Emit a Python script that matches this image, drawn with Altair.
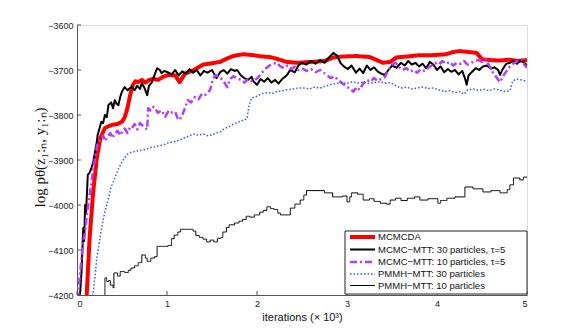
import altair as alt
import pandas as pd

SERIES = [
    "MCMCDA",
    "MCMC−MTT: 30 particles, τ=5",
    "MCMC−MTT: 10 particles, τ=5",
    "PMMH−MTT: 30 particles",
    "PMMH−MTT: 10 particles",
]
COLORS = ["#ff0000", "#000000", "#b43cff", "#2f55ff", "#000000"]
DASHES = [[1, 0], [1, 0], [7, 3, 2, 3], [1.5, 2], [1, 0]]
WIDTHS = [4, 2, 2.5, 1.5, 1]

# MCMCDA
red_x = [0.10, 0.14, 0.18, 0.22, 0.26, 0.31, 0.35, 0.39, 0.45, 0.50, 0.53, 0.56, 0.59, 0.62, 0.65, 0.68, 0.72,
         0.76, 0.80, 0.85, 0.90, 0.95, 1.01, 1.09, 1.14, 1.20, 1.30, 1.40, 1.50, 1.59, 1.65, 1.72, 1.78, 1.85,
         1.96, 2.05, 2.14, 2.20, 2.33, 2.45, 2.60, 2.75, 2.85, 2.96, 3.10, 3.25, 3.40, 3.48, 3.55, 3.67, 3.80,
         3.95, 4.10, 4.18, 4.25, 4.35, 4.44, 4.50, 4.60, 4.70, 4.80, 4.90, 5.00]
red_y = [-4230, -4073, -3971, -3896, -3851, -3829, -3825, -3822, -3820, -3815, -3805, -3785, -3756, -3733, -3725,
         -3727, -3722, -3728, -3722, -3720, -3722, -3716, -3711, -3712, -3727, -3708, -3700, -3688, -3685, -3682,
         -3676, -3670, -3667, -3665, -3667, -3670, -3671, -3674, -3682, -3684, -3682, -3680, -3672, -3670, -3669,
         -3671, -3684, -3682, -3672, -3670, -3667, -3667, -3665, -3660, -3658, -3660, -3662, -3676, -3678, -3679,
         -3677, -3680, -3678]

# MCMC-MTT 30 particles
blk_x = [0.03, 0.05, 0.07, 0.08, 0.09, 0.10, 0.12, 0.14, 0.16, 0.18, 0.20, 0.22, 0.23, 0.25, 0.27, 0.29, 0.31,
         0.33, 0.35, 0.38, 0.40, 0.42, 0.44, 0.46, 0.48, 0.50, 0.53, 0.56, 0.59, 0.61, 0.64, 0.67, 0.70, 0.72,
         0.75, 0.78, 0.80, 0.83, 0.86, 0.89, 0.92, 0.94, 0.97, 1.01, 1.05, 1.09, 1.13, 1.17, 1.21, 1.25, 1.29,
         1.33, 1.37, 1.41, 1.45, 1.50, 1.55, 1.59, 1.63, 1.67, 1.71, 1.75, 1.78, 1.82, 1.86, 1.90, 1.94, 1.96,
         2.00, 2.04, 2.08, 2.12, 2.16, 2.20, 2.24, 2.28, 2.33, 2.37, 2.42, 2.46, 2.50, 2.55, 2.60, 2.65, 2.70,
         2.75, 2.80, 2.85, 2.89, 2.93, 2.97, 3.01, 3.05, 3.10, 3.14, 3.18, 3.22, 3.26, 3.30, 3.34, 3.38, 3.42,
         3.46, 3.50, 3.55, 3.60, 3.64, 3.68, 3.72, 3.76, 3.80, 3.84, 3.88, 3.92, 3.96, 4.00, 4.04, 4.08, 4.12,
         4.16, 4.20, 4.24, 4.28, 4.31, 4.33, 4.35, 4.39, 4.43, 4.47, 4.51, 4.55, 4.60, 4.64, 4.68, 4.70, 4.73,
         4.77, 4.81, 4.85, 4.89, 4.93, 4.97, 5.00]
blk_y = [-4210, -4150, -4051, -4080, -4000, -4020, -3933, -3928, -3918, -3905, -3882, -3860, -3844, -3830, -3815,
         -3818, -3800, -3805, -3778, -3772, -3785, -3767, -3775, -3778, -3760, -3748, -3738, -3745, -3740, -3737,
         -3745, -3735, -3742, -3729, -3740, -3756, -3735, -3728, -3712, -3696, -3700, -3707, -3702, -3705, -3710,
         -3700, -3712, -3703, -3708, -3698, -3706, -3700, -3712, -3702, -3706, -3700, -3718, -3705, -3700, -3708,
         -3698, -3702, -3700, -3712, -3718, -3722, -3715, -3725, -3733, -3720, -3726, -3718, -3728, -3722, -3730,
         -3720, -3712, -3700, -3705, -3690, -3684, -3688, -3680, -3686, -3678, -3684, -3672, -3662, -3668, -3685,
         -3693, -3698, -3690, -3706, -3697, -3707, -3690, -3700, -3694, -3703, -3708, -3711, -3700, -3690, -3695,
         -3684, -3690, -3680, -3688, -3684, -3692, -3686, -3696, -3682, -3688, -3700, -3692, -3705, -3698, -3704,
         -3700, -3710, -3702, -3718, -3733, -3712, -3704, -3696, -3700, -3692, -3690, -3697, -3694, -3700, -3711,
         -3698, -3686, -3684, -3680, -3686, -3678, -3684, -3690]

# MCMC-MTT 10 particles
pur_x = [0.01, 0.03, 0.05, 0.07, 0.09, 0.11, 0.14, 0.17, 0.20, 0.23, 0.26, 0.29, 0.31, 0.34, 0.37, 0.39, 0.42,
         0.45, 0.48, 0.50, 0.53, 0.56, 0.59, 0.61, 0.64, 0.67, 0.70, 0.72, 0.75, 0.78, 0.79, 0.82, 0.85, 0.87,
         0.90, 0.94, 0.98, 1.02, 1.06, 1.09, 1.12, 1.14, 1.17, 1.20, 1.23, 1.27, 1.31, 1.35, 1.39, 1.43, 1.48,
         1.51, 1.54, 1.58, 1.62, 1.65, 1.67, 1.70, 1.74, 1.78, 1.82, 1.86, 1.90, 1.94, 1.98, 2.02, 2.06, 2.10,
         2.14, 2.18, 2.22, 2.26, 2.30, 2.34, 2.38, 2.42, 2.46, 2.50, 2.55, 2.60, 2.65, 2.70, 2.74, 2.78, 2.82,
         2.86, 2.90, 2.95, 3.00, 3.03, 3.07, 3.11, 3.14, 3.18, 3.22, 3.26, 3.30, 3.34, 3.38, 3.42, 3.46, 3.50,
         3.54, 3.58, 3.62, 3.66, 3.70, 3.74, 3.78, 3.82, 3.86, 3.90, 3.94, 3.98, 4.02, 4.06, 4.10, 4.14, 4.18,
         4.22, 4.26, 4.30, 4.34, 4.38, 4.42, 4.46, 4.50, 4.54, 4.58, 4.62, 4.66, 4.70, 4.74, 4.78, 4.82, 4.86,
         4.90, 4.94, 4.97, 5.00]
pur_y = [-4210, -4160, -4118, -4080, -4060, -4020, -3978, -3935, -3896, -3860, -3855, -3845, -3858, -3848, -3840,
         -3851, -3842, -3835, -3845, -3838, -3830, -3840, -3827, -3829, -3820, -3832, -3818, -3822, -3828, -3832,
         -3785, -3790, -3782, -3786, -3795, -3790, -3804, -3790, -3795, -3793, -3808, -3811, -3800, -3785, -3767,
         -3772, -3760, -3765, -3752, -3755, -3744, -3720, -3711, -3716, -3722, -3732, -3738, -3720, -3714, -3718,
         -3722, -3728, -3720, -3725, -3722, -3715, -3705, -3696, -3690, -3686, -3684, -3692, -3696, -3690, -3698,
         -3693, -3700, -3696, -3702, -3698, -3705, -3700, -3706, -3712, -3718, -3714, -3722, -3730, -3737, -3742,
         -3748, -3738, -3744, -3730, -3722, -3726, -3718, -3724, -3720, -3716, -3700, -3688, -3684, -3694, -3700,
         -3696, -3704, -3700, -3706, -3698, -3702, -3695, -3690, -3684, -3688, -3680, -3686, -3682, -3690, -3684,
         -3686, -3680, -3688, -3684, -3680, -3678, -3682, -3676, -3690, -3705, -3716, -3727, -3712, -3700, -3690,
         -3684, -3680, -3676, -3688, -3695]

# PMMH-MTT 30 particles
blu_x = [0.17, 0.20, 0.22, 0.25, 0.28, 0.31, 0.35, 0.38, 0.42, 0.46, 0.50, 0.54, 0.57, 0.62, 0.67, 0.72, 0.77,
         0.82, 0.87, 0.92, 0.97, 1.01, 1.06, 1.10, 1.15, 1.20, 1.25, 1.30, 1.35, 1.40, 1.45, 1.50, 1.55, 1.59,
         1.64, 1.69, 1.74, 1.79, 1.84, 1.89, 1.91, 1.94, 1.98, 2.02, 2.07, 2.12, 2.17, 2.22, 2.28, 2.34, 2.40,
         2.46, 2.52, 2.58, 2.64, 2.70, 2.76, 2.82, 2.88, 2.94, 3.00, 3.06, 3.12, 3.18, 3.24, 3.30, 3.36, 3.42,
         3.48, 3.54, 3.60, 3.66, 3.72, 3.78, 3.84, 3.90, 3.96, 4.02, 4.08, 4.14, 4.20, 4.26, 4.30, 4.34, 4.40,
         4.46, 4.52, 4.58, 4.64, 4.70, 4.76, 4.81, 4.84, 4.88, 4.94, 5.00]
blu_y = [-4210, -4160, -4118, -4080, -4044, -4015, -3985, -3960, -3940, -3920, -3904, -3892, -3885, -3882, -3880,
         -3878, -3876, -3872, -3871, -3868, -3866, -3862, -3860, -3858, -3855, -3850, -3846, -3842, -3845, -3842,
         -3846, -3844, -3840, -3838, -3830, -3826, -3820, -3816, -3812, -3808, -3780, -3762, -3760, -3756, -3752,
         -3750, -3752, -3748, -3746, -3744, -3742, -3740, -3740, -3742, -3738, -3740, -3736, -3732, -3730, -3728,
         -3730, -3726, -3729, -3727, -3730, -3728, -3726, -3729, -3728, -3735, -3740, -3738, -3742, -3740, -3738,
         -3741, -3740, -3744, -3748, -3746, -3750, -3748, -3754, -3744, -3742, -3745, -3743, -3746, -3742, -3745,
         -3748, -3746, -3725, -3720, -3722, -3725]

# PMMH-MTT 10 particles (stepped)
thn_x = [0.30, 0.31, 0.33, 0.35, 0.37, 0.40, 0.41, 0.45, 0.48, 0.53, 0.57, 0.60, 0.64, 0.68, 0.72, 0.76, 0.78,
         0.82, 0.86, 0.89, 0.95, 1.01, 1.05, 1.08, 1.12, 1.15, 1.29, 1.32, 1.36, 1.40, 1.44, 1.48, 1.52, 1.56,
         1.60, 1.62, 1.66, 1.69, 1.75, 1.80, 1.84, 1.88, 1.92, 1.97, 2.03, 2.07, 2.11, 2.15, 2.19, 2.23, 2.26,
         2.37, 2.42, 2.48, 2.52, 2.55, 2.75, 2.84, 2.95, 3.00, 3.03, 3.05, 3.12, 3.18, 3.25, 3.30, 3.37, 3.44,
         3.48, 3.54, 3.60, 3.67, 3.75, 3.81, 3.90, 4.01, 4.04, 4.11, 4.20, 4.31, 4.40, 4.51, 4.60, 4.70, 4.78,
         4.81, 4.85, 4.92, 4.96, 5.00]
thn_y = [-4230, -4162, -4170, -4168, -4178, -4184, -4151, -4158, -4148, -4150, -4145, -4140, -4135, -4128, -4111,
         -4118, -4125, -4118, -4115, -4092, -4092, -4090, -4075, -4067, -4060, -4054, -4058, -4068, -4072, -4076,
         -4082, -4078, -4082, -4074, -4072, -4060, -4050, -4044, -4040, -4036, -4032, -4025, -4027, -4022, -4016,
         -4012, -4004, -4008, -4010, -4018, -4022, -4007, -3998, -3989, -3978, -3968, -3973, -3982, -3980, -3993,
         -3982, -3973, -3976, -3989, -3986, -3992, -3996, -3998, -3989, -3985, -3990, -3985, -3982, -3989, -3986,
         -3996, -3990, -3985, -3982, -3960, -3964, -3971, -3968, -3973, -3966, -3955, -3940, -3944, -3938, -3940]

X_TICKS = [0, 1, 2, 3, 4, 5]
Y_TICKS = [-4200, -4100, -4000, -3900, -3800, -3700, -3600]

W, H = 450, 270
xs = alt.Scale(domain=[0, 5], nice=False, zero=False)
ys = alt.Scale(domain=[-4200, -3600], nice=False, zero=False)

xaxis = alt.Axis(values=X_TICKS, format="d", title="iterations (× 10³)", grid=False, ticks=False,
                 labelFont="Liberation Sans", labelFontSize=9, labelColor="#222", labelPadding=4,
                 titleFont="Liberation Sans", titleFontSize=11, titleFontWeight="normal", titleColor="#111",
                 titlePadding=3, domainColor="#555")
yaxis = alt.Axis(values=Y_TICKS, format="d", title="log pθ(z₁:ₙ, y₁:ₙ)", grid=False, ticks=False,
                 labelFont="Liberation Sans", labelFontSize=9, labelColor="#222", labelPadding=4,
                 titleFont="Liberation Serif", titleFontSize=15, titleFontWeight="normal", titleColor="#111",
                 titleX=-38, titleY=132, titleAngle=-90, titleAlign="center", titleBaseline="middle",
                 domainColor="#555")

series_data = [(red_x, red_y, "linear"), (blk_x, blk_y, "linear"), (pur_x, pur_y, "linear"),
               (blu_x, blu_y, "linear"), (thn_x, thn_y, "step-after")]

layers = []
for i, (sx, sy, interp) in enumerate(series_data):
    d = pd.DataFrame({"x": sx, "y": sy, "series": SERIES[i]})
    layers.append(
        alt.Chart(d).mark_line(clip=True, interpolate=interp, color=COLORS[i], strokeDash=DASHES[i],
                               strokeWidth=WIDTHS[i], strokeCap="butt", strokeJoin="round").encode(
            x=alt.X("x:Q", scale=xs, axis=xaxis),
            y=alt.Y("y:Q", scale=ys, axis=yaxis))
    )

# inward axis ticks
layers.append(alt.Chart(pd.DataFrame({"x": X_TICKS})).mark_rule(color="#555", strokeWidth=1).encode(
    x=alt.X("x:Q", scale=xs, axis=xaxis), y=alt.value(H), y2=alt.value(H - 4)))
layers.append(alt.Chart(pd.DataFrame({"y": Y_TICKS})).mark_rule(color="#555", strokeWidth=1).encode(
    y=alt.Y("y:Q", scale=ys, axis=yaxis), x=alt.value(0), x2=alt.value(4)))

# legend box (drawn by hand, MATLAB style)
LX0, LX1, LY0, LY1 = 268, 450, 206, 269
ROW_Y = [212, 224.5, 237, 249, 260.5]
layers.append(alt.Chart(pd.DataFrame({"a": [0]})).mark_rect(fill="white", stroke="#222", strokeWidth=1).encode(
    x=alt.value(LX0), x2=alt.value(LX1), y=alt.value(LY0), y2=alt.value(LY1)))
for i, name in enumerate(SERIES):
    layers.append(alt.Chart(pd.DataFrame({"a": [0]})).mark_rule(
        color=COLORS[i], strokeDash=DASHES[i], strokeWidth=WIDTHS[i], strokeCap="butt").encode(
        x=alt.value(273), x2=alt.value(298), y=alt.value(ROW_Y[i])))
    layers.append(alt.Chart(pd.DataFrame({"t": [name]})).mark_text(
        align="left", baseline="middle", font="Liberation Sans", fontSize=9.5, color="#111").encode(
        x=alt.value(301), y=alt.value(ROW_Y[i]), text="t:N"))

chart = alt.layer(*layers).properties(
    width=W, height=H,
    autosize=alt.AutoSizeParams(type="none"),
    padding={"left": 69, "top": 17, "right": 46, "bottom": 29},
).configure_view(stroke=None).configure(background="white")

chart.save("out.html", embed_options={"renderer": "svg", "actions": False})
